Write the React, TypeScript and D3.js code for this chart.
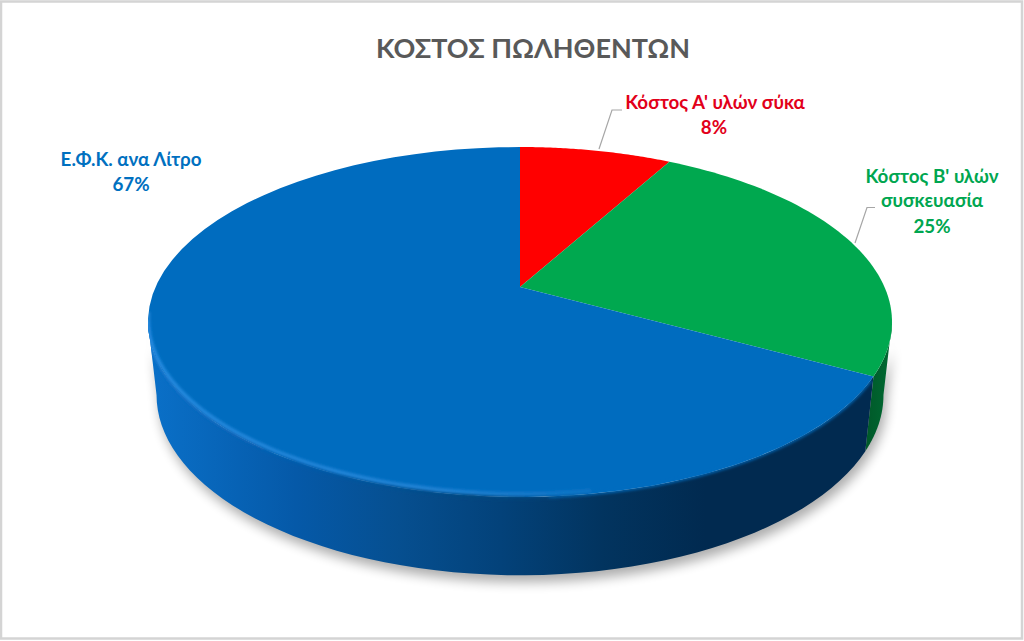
import React from "react";
import * as d3 from "d3";

const categories = ["Κόστος Α' υλών σύκα", "Κόστος Β' υλών συσκευασία", "Ε.Φ.Κ. ανα Λίτρο"];
const values = [8, 25, 67];
const sliceColors = ["#ff0000", "#00a84f", "#006cbf"];
const sideColors = ["#800000", "url(#greenSide)", "url(#blueSide)"];
const title = "ΚΟΣΤΟΣ ΠΩΛΗΘΕΝΤΩΝ";

const W = 1024, H = 641;
const cx = 520, apexY = 287;
const persp = -0.2, scaleX = 364.5, scaleY = 168;
const ellipseMidY = 322, lowMidY = 395, lowShrinkX = 0.977, lowStretchY = 1.03;

const project = (a: number): [number, number] => {
  const X = Math.sin(a), Y = -Math.cos(a);
  const d = 1 + persp * Y;
  return [cx + (scaleX * X) / d, apexY + (scaleY * Y) / d];
};
const projectLow = (a: number): [number, number] => {
  const [x, y] = project(a);
  return [cx + (x - cx) * lowShrinkX, lowMidY + (y - ellipseMidY) * lowStretchY];
};
const samples = (a0: number, a1: number) =>
  d3.range(0, 61).map((i) => a0 + ((a1 - a0) * i) / 60);
const line = d3.line();

const frontStart = Math.acos(-0.2);
const frontEnd = 2 * Math.PI - frontStart;

const arcs = d3.pie<number>().sort(null)(values);

const slicePath = (a0: number, a1: number) =>
  line([[cx, apexY], ...samples(a0, a1).map(project)])! + "Z";
const sidePath = (a0: number, a1: number) =>
  line([...samples(a0, a1).map(project), ...samples(a0, a1).reverse().map(projectLow)])! + "Z";

export default function App() {
  const font = "Lato, 'Noto Sans', sans-serif";
  const labelStyle = { fontFamily: font, fontWeight: 700, fontSize: 18.8, textAnchor: "middle" as const };
  return (
    <svg width={W} height={H} viewBox={`0 0 ${W} ${H}`} style={{ position: "absolute", left: 0, top: 0, background: "#fff" }}>
      <defs>
        <linearGradient id="blueSide" gradientUnits="userSpaceOnUse" x1={150} x2={880} y1={0} y2={0}>
          <stop offset="0" stopColor="#0a70c8" />
          <stop offset="0.2" stopColor="#0559a8" />
          <stop offset="0.34" stopColor="#064f90" />
          <stop offset="0.48" stopColor="#03427a" />
          <stop offset="0.62" stopColor="#02345f" />
          <stop offset="0.76" stopColor="#012a50" />
          <stop offset="1" stopColor="#012a50" />
        </linearGradient>
        <linearGradient id="greenSide" gradientUnits="userSpaceOnUse" x1={868} x2={892} y1={0} y2={0}>
          <stop offset="0" stopColor="#005a2a" />
          <stop offset="1" stopColor="#006a32" />
        </linearGradient>
        <linearGradient id="rim" gradientUnits="userSpaceOnUse" x1={150} x2={640} y1={0} y2={0}>
          <stop offset="0" stopColor="#2a90e4" />
          <stop offset="0.6" stopColor="#2a8ce0" />
          <stop offset="1" stopColor="#0a70c0" />
        </linearGradient>
        <linearGradient id="sideFade" gradientUnits="userSpaceOnUse" x1={150} x2={610} y1={0} y2={0}>
          <stop offset="0" stopColor="#0a70c8" />
          <stop offset="0.35" stopColor="#0559a8" />
          <stop offset="0.7" stopColor="#04477f" />
          <stop offset="1" stopColor="#03427a" stopOpacity="0" />
        </linearGradient>
        <filter id="soft" x="-20%" y="-20%" width="140%" height="140%">
          <feGaussianBlur stdDeviation="6" />
        </filter>
        <filter id="rimBlur" x="-10%" y="-10%" width="120%" height="120%">
          <feGaussianBlur stdDeviation="1.4" />
        </filter>
        <clipPath id="pieBody">
          <path d={slicePath(0, 2 * Math.PI)} />
          <path d={sidePath(frontStart, frontEnd)} />
        </clipPath>
      </defs>

      <rect x={1} y={1.5} width={W - 3} height={H - 4} fill="#fff" stroke="#d4d4d4" strokeWidth={2.5} />

      <text x={533} y={58} textAnchor="middle" fontFamily={font} fontWeight={700} fontSize={27} fill="#595959">
        {title}
      </text>

      <path
        d={sidePath(frontStart, frontEnd)}
        transform="translate(3,7)"
        fill="#000"
        opacity={0.32}
        filter="url(#soft)"
      />

      {arcs.map((a, i) => {
        const s = Math.max(a.startAngle, frontStart);
        const e = Math.min(a.endAngle, frontEnd);
        return e > s ? <path key={`side${i}`} d={sidePath(s, e)} fill={sideColors[i]} /> : null;
      })}

      {arcs.map((a, i) => (
        <path key={`top${i}`} d={slicePath(a.startAngle, a.endAngle)} fill={sliceColors[i]} />
      ))}

      <g clipPath="url(#pieBody)">
        <path
          d={line(samples(arcs[1].endAngle + 0.02, Math.PI * 0.98).map(project))!}
          fill="none"
          stroke={sliceColors[2]}
          strokeWidth={2.5}
          filter="url(#rimBlur)"
        />
        <path
          d={line(samples(Math.PI * 0.95, frontEnd).map(project))!}
          fill="none"
          stroke="url(#sideFade)"
          strokeWidth={5}
          filter="url(#rimBlur)"
        />
        <path
          d={line(samples(Math.PI * 0.95, frontEnd + 0.04).map(project))!}
          transform="translate(0,-3)"
          fill="none"
          stroke="url(#rim)"
          strokeWidth={3}
          filter="url(#rimBlur)"
        />
      </g>

      <path d="M599,149L612,110L622,110" fill="none" stroke="#a6a6a6" strokeWidth={1.2} />
      <path d="M855,243L867,207.5L875,207.5" fill="none" stroke="#a6a6a6" strokeWidth={1.2} />

      <g style={labelStyle} fill="#e2001a">
        <text x={715} y={109}>{categories[0]}</text>
        <text x={714} y={134}>{values[0]}%</text>
      </g>
      <g style={labelStyle} fill="#00a650">
        <text x={932} y={183}>Κόστος Β' υλών</text>
        <text x={932} y={207}>συσκευασία</text>
        <text x={932} y={233}>{values[1]}%</text>
      </g>
      <g style={labelStyle} fill="#0070c0">
        <text x={131} y={166}>{categories[2]}</text>
        <text x={131} y={191}>{values[2]}%</text>
      </g>
    </svg>
  );
}
